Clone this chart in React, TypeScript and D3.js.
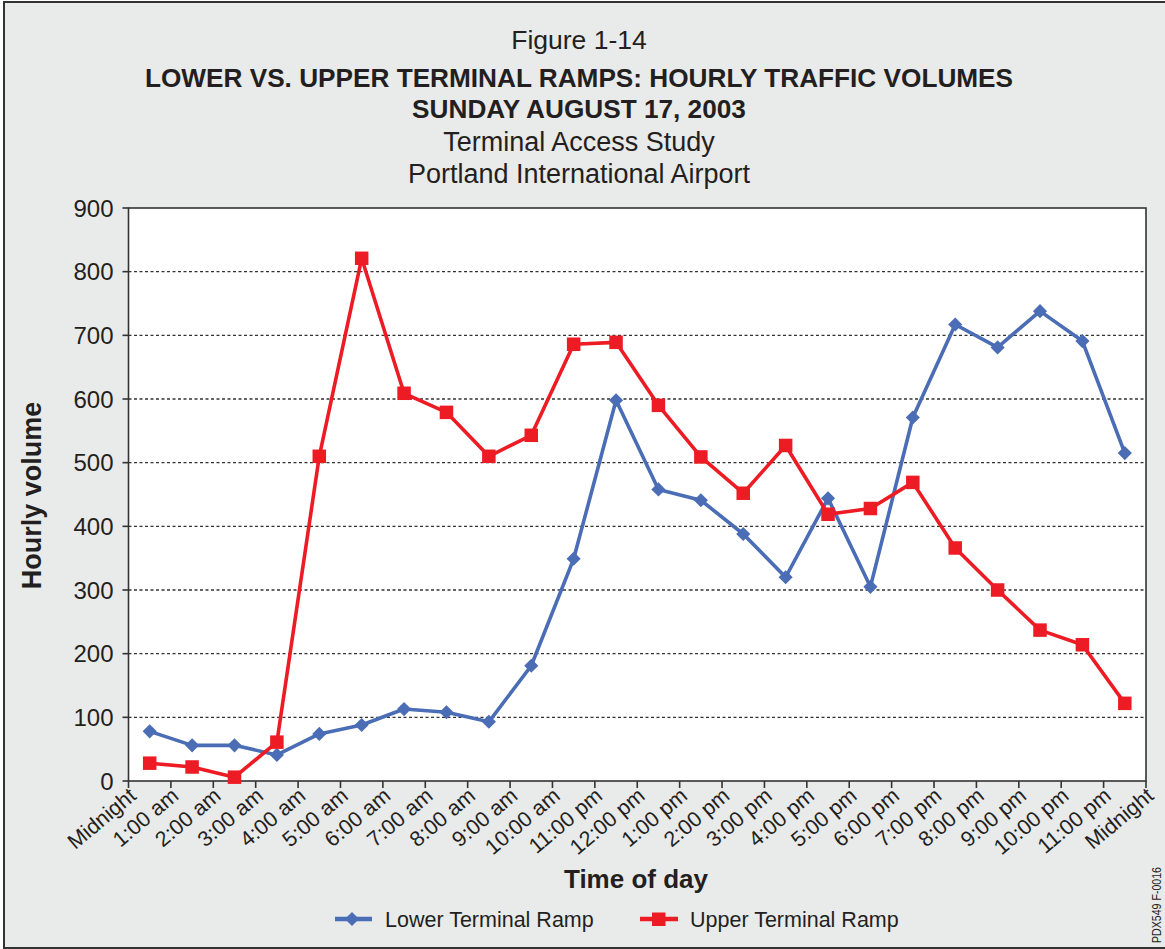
import * as d3 from 'd3';

const hours = [
  'Midnight', '1:00 am', '2:00 am', '3:00 am', '4:00 am', '5:00 am', '6:00 am', '7:00 am',
  '8:00 am', '9:00 am', '10:00 am', '11:00 pm', '12:00 pm', '1:00 pm', '2:00 pm', '3:00 pm',
  '4:00 pm', '5:00 pm', '6:00 pm', '7:00 pm', '8:00 pm', '9:00 pm', '10:00 pm', '11:00 pm', 'Midnight',
];

const lowerRamp = [78, 56, 56, 41, 74, 88, 113, 108, 93, 181, 349, 598, 458, 441, 388, 320, 444, 305, 571, 717, 681, 738, 691, 515];
const upperRamp = [28, 22, 6, 61, 510, 821, 609, 579, 510, 543, 686, 689, 590, 509, 452, 527, 419, 428, 469, 366, 300, 237, 214, 122];

const yTicks = [0, 100, 200, 300, 400, 500, 600, 700, 800, 900];

const W = 1165;
const H = 949;
const plot = { left: 128.5, right: 1146, top: 208, bottom: 781 };
const font = 'Liberation Sans, Arial, sans-serif';
const BLUE = '#4a6db5';
const RED = '#ed1c24';
const INK = '#231f20';

export default function App() {
  const x = d3.scaleLinear().domain([0, 24]).range([plot.left, plot.right]);
  const y = d3.scaleLinear().domain([0, 900]).range([plot.bottom, plot.top]);
  const line = d3.line<number>().x((_, i) => x(i + 0.5)).y((d) => y(d));

  return (
    <svg width={W} height={H} style={{ position: 'absolute', left: 0, top: 0, display: 'block' }} fontFamily={font}>
      <rect x={0} y={0} width={W} height={H} fill="#fff" />
      <rect x={4} y={2} width={W + 4} height={946} fill="#e9eaea" stroke="#333" strokeWidth={2} />

      {/* titles */}
      <g textAnchor="middle" fill={INK}>
        <text x={579} y={49} fontSize={26.5}>Figure 1-14</text>
        <text x={579} y={87} fontSize={26.2} fontWeight="bold">LOWER VS. UPPER TERMINAL RAMPS: HOURLY TRAFFIC VOLUMES</text>
        <text x={579} y={118} fontSize={26.2} fontWeight="bold">SUNDAY AUGUST 17, 2003</text>
        <text x={579} y={151} fontSize={27}>Terminal Access Study</text>
        <text x={579} y={183} fontSize={27}>Portland International Airport</text>
      </g>

      {/* plot area */}
      <rect x={plot.left} y={plot.top} width={plot.right - plot.left} height={plot.bottom - plot.top} fill="#fff" />
      {yTicks.filter((t) => t > 0 && t < 900).map((t) => (
        <line key={'g' + t} x1={plot.left} x2={plot.right} y1={y(t)} y2={y(t)} stroke="#333" strokeWidth={1.4} strokeDasharray="3,2.5" />
      ))}
      <rect x={plot.left} y={plot.top} width={plot.right - plot.left} height={plot.bottom - plot.top} fill="none" stroke="#333" strokeWidth={1.6} />

      {/* y axis */}
      {yTicks.map((t) => (
        <g key={'y' + t}>
          <line x1={plot.left - 6} x2={plot.left} y1={y(t)} y2={y(t)} stroke="#333" strokeWidth={1.6} />
          <text x={plot.left - 15} y={y(t)} dy="0.36em" textAnchor="end" fontSize={24} fill={INK}>{t}</text>
        </g>
      ))}
      <text transform={`translate(41,${(plot.top + plot.bottom) / 2 + 1}) rotate(-90)`} textAnchor="middle" fontSize={27} fontWeight="bold" fill={INK}>Hourly volume</text>

      {/* x axis */}
      {hours.map((h, i) => (
        <g key={'x' + i}>
          <line x1={x(i)} x2={x(i)} y1={plot.bottom} y2={plot.bottom + 7} stroke="#333" strokeWidth={1.6} />
          <text transform={`translate(${x(i) + 9},${plot.bottom + 17}) rotate(-40)`} textAnchor="end" fontSize={21.5} fill={INK}>{h}</text>
        </g>
      ))}
      <text x={636} y={888} textAnchor="middle" fontSize={26} fontWeight="bold" fill={INK}>Time of day</text>

      {/* series */}
      <path d={line(lowerRamp) ?? ''} fill="none" stroke={BLUE} strokeWidth={3.6} strokeLinejoin="round" />
      {lowerRamp.map((v, i) => (
        <rect key={'l' + i} x={-5} y={-5} width={10} height={10} fill={BLUE}
          transform={`translate(${x(i + 0.5)},${y(v)}) rotate(45)`} />
      ))}
      <path d={line(upperRamp) ?? ''} fill="none" stroke={RED} strokeWidth={3.6} strokeLinejoin="round" />
      {upperRamp.map((v, i) => (
        <rect key={'u' + i} x={x(i + 0.5) - 6.75} y={y(v) - 6.75} width={13.5} height={13.5} fill={RED} />
      ))}

      {/* legend */}
      <g>
        <line x1={335} x2={372} y1={919} y2={919} stroke={BLUE} strokeWidth={4.5} />
        <rect x={-5} y={-5} width={10} height={10} fill={BLUE} transform="translate(352,919) rotate(45)" />
        <text x={385} y={927} fontSize={21.5} fill={INK}>Lower Terminal Ramp</text>
        <line x1={640} x2={678} y1={919} y2={919} stroke={RED} strokeWidth={4.5} />
        <rect x={652} y={912.5} width={13.5} height={13.5} fill={RED} />
        <text x={690} y={927} fontSize={21.5} fill={INK}>Upper Terminal Ramp</text>
      </g>

      <text transform="translate(1161,943) rotate(-90)" fontSize={13} textLength={76} lengthAdjust="spacingAndGlyphs" fill={INK}>PDX549 F-0016</text>
    </svg>
  );
}
